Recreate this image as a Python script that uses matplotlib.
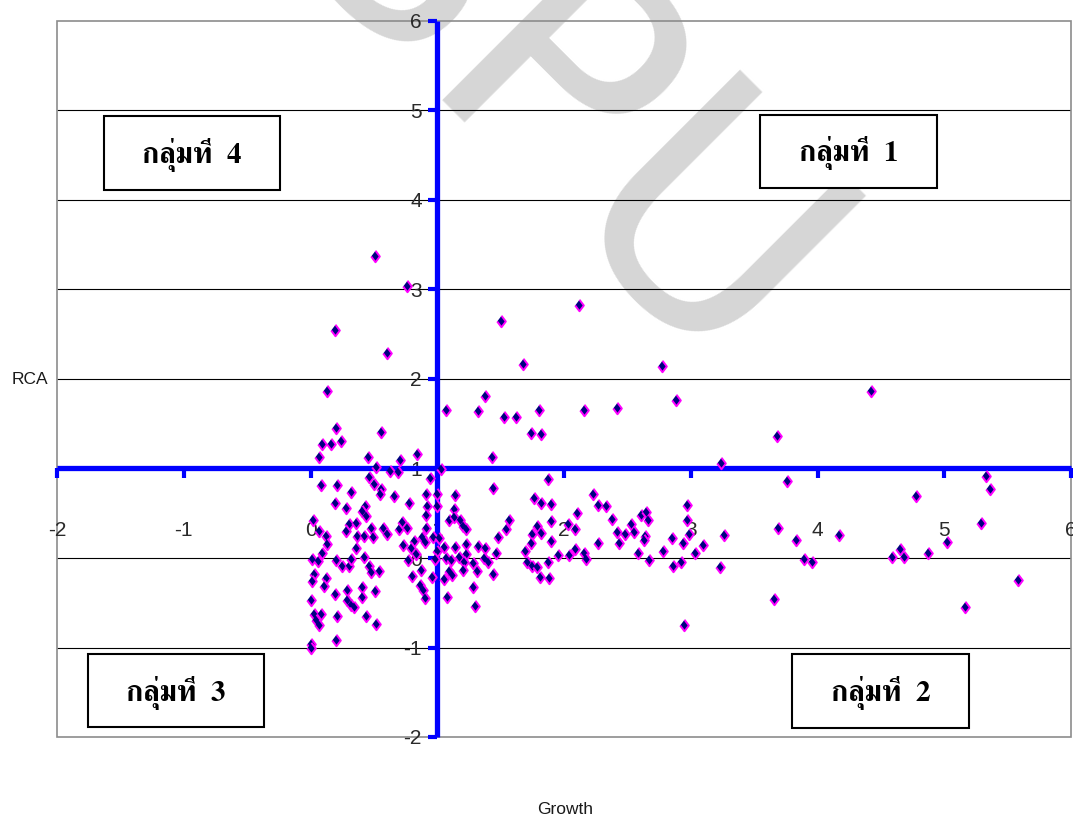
import matplotlib
matplotlib.use('Agg')
import matplotlib.pyplot as plt
from matplotlib import font_manager, patheffects
from matplotlib.ft2font import FT2Font
from matplotlib.patches import Rectangle

# ---------------- data ----------------
growth = [0.51, 0.76, 0.19, 0.60, 0.13, 0.20, 0.56, 0.09, 0.16, 0.24, 0.07, 0.45, 0.71, 0.84,
          2.12, 1.50, 1.68, 1.38, 1.07, 1.32, 1.53, 1.62, 1.80, 2.16, 1.74, 1.82, 1.43, 2.77,
          2.42, 2.88, 3.24, 4.42, 3.68, 1.03, 0.52, 0.63, 0.69, 0.46, 0.50, 0.08, 0.21, 0.32,
          0.56, 0.55, 0.66, 0.94, 0.91, 1.00, 0.19, 0.28, 0.43, 0.41, 0.44, 0.78, 0.92, 1.00,
          0.91, 0.02, 0.30, 0.36, 0.28, 0.07, 0.12, 0.37, 0.42, 0.48, 0.49, 0.57, 0.60, 0.70,
          0.72, 0.76, 0.91, 0.88, 0.97, 1.01, 0.13, 0.36, 0.73, 0.82, 0.79, 0.83, 0.90, 0.09,
          1.00, 0.01, 0.06, 0.20, 0.25, 0.30, 0.32, 0.42, 0.46, 0.48, 0.54, 0.77, 0.98, 0.87,
          0.03, 0.12, 0.01, 0.80, 0.96, 0.11, 0.19, 0.29, 0.41, 0.51, 0.86, 0.89, 0.90, 0.00,
          0.29, 0.32, 0.34, 0.41, 0.03, 0.08, 0.04, 0.07, 0.21, 0.44, 0.52, 0.20, 0.00, 0.00,
          1.87, 1.44, 1.14, 1.13, 1.76, 1.82, 1.90, 2.23, 2.27, 2.10, 1.09, 1.13, 1.18, 1.20,
          1.23, 1.57, 1.54, 1.48, 1.79, 1.82, 1.75, 1.90, 2.09, 2.03, 1.74, 1.90, 2.27, 1.05,
          1.14, 1.23, 1.32, 1.38, 1.46, 1.17, 1.07, 1.23, 1.11, 1.21, 1.28, 1.37, 1.40, 1.69,
          1.71, 1.75, 1.79, 1.87, 1.95, 2.04, 2.09, 2.16, 2.17, 1.20, 1.09, 1.12, 1.31, 1.44,
          1.05, 1.81, 1.88, 1.28, 1.08, 1.30, 2.33, 2.38, 2.42, 2.48, 2.43, 2.53, 2.55, 2.61,
          2.65, 2.66, 2.64, 2.63, 2.58, 2.67, 2.78, 2.85, 2.86, 2.92, 2.94, 2.97, 2.97, 2.99,
          3.03, 3.10, 3.26, 3.23, 2.95, 3.76, 5.33, 5.36, 4.78, 3.69, 5.29, 3.83, 4.17, 5.02,
          3.89, 3.96, 4.59, 4.65, 4.68, 4.87, 5.58, 3.66, 5.16]
rca = [3.37, 3.04, 2.55, 2.29, 1.87, 1.45, 1.41, 1.27, 1.27, 1.31, 1.13, 1.13, 1.10, 1.16,
       2.83, 2.65, 2.17, 1.81, 1.65, 1.64, 1.58, 1.58, 1.65, 1.65, 1.40, 1.38, 1.13, 2.14,
       1.68, 1.76, 1.06, 1.87, 1.36, 1.00, 1.02, 0.97, 0.96, 0.90, 0.83, 0.82, 0.82, 0.74,
       0.77, 0.71, 0.69, 0.89, 0.72, 0.72, 0.61, 0.56, 0.58, 0.52, 0.47, 0.61, 0.58, 0.58,
       0.48, 0.43, 0.38, 0.39, 0.30, 0.30, 0.25, 0.25, 0.25, 0.34, 0.23, 0.33, 0.27, 0.32,
       0.40, 0.33, 0.34, 0.24, 0.24, 0.22, 0.16, 0.11, 0.15, 0.19, 0.11, 0.04, 0.18, 0.06,
       0.08, -0.01, -0.03, -0.02, -0.09, -0.09, -0.01, 0.01, -0.09, -0.16, -0.14, -0.02, -0.01, -0.13,
       -0.18, -0.22, -0.26, -0.20, -0.21, -0.31, -0.40, -0.36, -0.32, -0.37, -0.30, -0.36, -0.45, -0.47,
       -0.47, -0.52, -0.55, -0.44, -0.63, -0.63, -0.69, -0.75, -0.65, -0.65, -0.74, -0.92, -0.96, -1.00,
       0.88, 0.78, 0.70, 0.55, 0.67, 0.62, 0.60, 0.72, 0.59, 0.50, 0.43, 0.46, 0.43, 0.36,
       0.32, 0.43, 0.32, 0.24, 0.36, 0.28, 0.27, 0.41, 0.32, 0.38, 0.17, 0.19, 0.17, 0.12,
       0.12, 0.16, 0.13, 0.11, 0.06, 0.01, 0.00, 0.05, -0.02, -0.05, -0.06, 0.00, -0.04, 0.08,
       -0.05, -0.09, -0.10, -0.04, 0.03, 0.03, 0.10, 0.06, -0.01, -0.13, -0.14, -0.19, -0.15, -0.18,
       -0.24, -0.21, -0.22, -0.32, -0.44, -0.54, 0.58, 0.44, 0.29, 0.27, 0.17, 0.38, 0.29, 0.48,
       0.51, 0.43, 0.25, 0.20, 0.06, -0.02, 0.08, 0.22, -0.09, -0.04, 0.17, 0.59, 0.42, 0.27,
       0.06, 0.14, 0.26, -0.10, -0.75, 0.86, 0.92, 0.77, 0.69, 0.34, 0.39, 0.20, 0.26, 0.18,
       -0.01, -0.05, 0.01, 0.10, 0.01, 0.06, -0.25, -0.46, -0.55]

x_ticks = [-2, -1, 0, 1, 2, 3, 4, 5, 6]
y_ticks = [-2, -1, 0, 1, 2, 3, 4, 5, 6]
x_title = 'Growth'
y_title = 'RCA'
group_labels = ['กลุ่มที่  4', 'กลุ่มที่  1', 'กลุ่มที่  3', 'กลุ่มที่  2']
watermark = 'SPU'

W, H = 1073, 818


def find_thai_font():
    best, best_score = None, -99
    for fe in font_manager.fontManager.ttflist:
        try:
            f = FT2Font(fe.fname)
            if not (f.get_char_index(0x0E01) and f.get_char_index(0x0E38)
                    and f.get_char_index(0x0E48) and f.get_char_index(0x0034)):
                continue
        except Exception:
            continue
        name = (fe.name + ' ' + fe.fname).lower()
        score = 0
        if 'serif' in name and 'sans' not in name:
            score += 2
        w = fe.weight if isinstance(fe.weight, int) else 400
        if w >= 600 or 'bold' in name:
            score += 3
        if fe.style != 'normal' or 'italic' in name or 'oblique' in name:
            score -= 6
        if 'thai' in name:
            score += 1
        if score > best_score:
            best, best_score = fe, score
    return best


thai = find_thai_font()
if thai is not None:
    thai_fp = font_manager.FontProperties(fname=thai.fname, size=21)
    thai_bold = (isinstance(thai.weight, int) and thai.weight >= 600) or 'bold' in thai.fname.lower()
else:
    thai_fp = font_manager.FontProperties(family='DejaVu Serif', weight='bold', size=21)
    thai_bold = True

label_family = ['Liberation Sans Narrow', 'Liberation Sans', 'DejaVu Sans']

fig = plt.figure(figsize=(W / 100, H / 100), dpi=100)
ax = fig.add_axes([57 / W, 1 - 737 / H, (1071 - 57) / W, (737 - 21) / H])
ax.set_xlim(x_ticks[0], x_ticks[-1])
ax.set_ylim(y_ticks[0], y_ticks[-1])

# horizontal gridlines
ax.hlines(y_ticks[1:-1], x_ticks[0], x_ticks[-1], colors='black', linewidth=0.8, zorder=1)

# plot-area border
ax.add_patch(Rectangle((0, 0), 1, 1, transform=ax.transAxes, fill=False,
                       edgecolor='#8c8c8c', linewidth=1.2, zorder=1.2, clip_on=False))

# blue axes crossing at (1, 1)
for s in ('top', 'right'):
    ax.spines[s].set_visible(False)
ax.spines['left'].set_position(('data', 1))
ax.spines['bottom'].set_position(('data', 1))
for s in ('left', 'bottom'):
    ax.spines[s].set_color('#0000ff')
    ax.spines[s].set_linewidth(3.8)
    ax.spines[s].set_zorder(3)
    ax.spines[s].set_capstyle('butt')

ax.set_xticks(x_ticks)
ax.set_yticks(y_ticks)
ax.tick_params(axis='x', direction='out', length=7, width=3, color='#0000ff',
               pad=31, labelsize=15, labelcolor='#2a2a2a')
ax.tick_params(axis='y', direction='out', length=6.5, width=3, color='#0000ff',
               pad=4.5, labelsize=15, labelcolor='#2a2a2a')
ax.set_xticklabels([str(v) for v in x_ticks])
ax.set_yticklabels([str(v) for v in y_ticks])
for lab in ax.get_xticklabels() + ax.get_yticklabels():
    lab.set_family(label_family)

# watermark
ax.text(0.491, 0.876, watermark, transform=ax.transAxes, fontsize=230, color='#d6d6d6',
        family='DejaVu Sans', ha='center', va='center', rotation=-45, zorder=0.5,
        clip_on=False, rotation_mode='anchor')

# points
ax.plot(growth, rca, linestyle='none', marker=[(0, 1), (0.75, 0), (0, -1), (-0.75, 0)],
        markersize=8.3, markerfacecolor='#000080', markeredgecolor='#ff00ff',
        markeredgewidth=1.4, zorder=5, clip_on=False)

# axis titles
fig.text(30 / W, 1 - 379 / H, y_title, ha='center', va='center', fontsize=12.5,
         family=label_family, color='#1a1a1a')
fig.text(565 / W, 1 - 810 / H, x_title, ha='center', va='center', fontsize=12.5,
         family=label_family, color='#1a1a1a')

# group boxes (left, top, right, bottom in pixels)
boxes = [(104, 116, 280, 190), (760, 115, 937, 188), (88, 654, 264, 727), (792, 654, 969, 728)]
for (l, t, r, b), txt in zip(boxes, group_labels):
    fig.add_artist(Rectangle((l / W, 1 - b / H), (r - l) / W, (b - t) / H,
                             transform=fig.transFigure, facecolor='white',
                             edgecolor='black', linewidth=1.5, zorder=6))
    tx = fig.text((l + r) / 2 / W, 1 - ((t + b) / 2 + 2) / H, txt, ha='center', va='center',
                  fontproperties=thai_fp, color='black', zorder=7)
    if not thai_bold:
        tx.set_path_effects([patheffects.withStroke(linewidth=1.0, foreground='black')])

fig.savefig('out.png', dpi=100)
